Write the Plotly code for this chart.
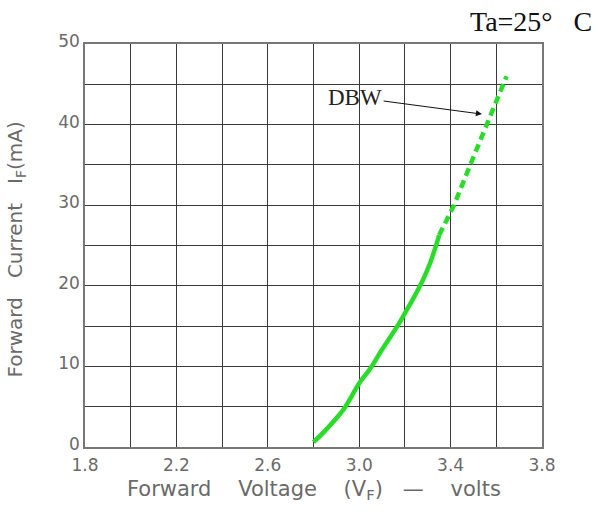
import plotly.graph_objects as go

# ---- data ----
vf_solid = [2.80, 2.85, 2.93, 3.00, 3.05, 3.10, 3.165, 3.20, 3.24, 3.28, 3.31, 3.335, 3.35]
if_solid = [0.6, 2.0, 4.6, 7.9, 9.8, 12.1, 14.9, 16.6, 18.6, 20.8, 22.8, 24.9, 26.3]
vf_dashed = [3.35, 3.415, 3.486, 3.556, 3.645]
if_dashed = [26.3, 30.0, 35.0, 40.0, 46.0]

x_grid = [1.8, 2.0, 2.2, 2.4, 2.6, 2.8, 3.0, 3.2, 3.4, 3.6, 3.8]
x_labels = ["1.8", "", "2.2", "", "2.6", "", "3.0", "", "3.4", "", "3.8"]
y_grid = [0, 5, 10, 15, 20, 25, 30, 35, 40, 45, 50]
y_labels = ["0", "", "10", "", "20", "", "30", "", "40", "", "50"]

series_name = "DBW"
title_text = "Ta=25°   C"
x_title = "Forward    Voltage    (V<sub>F</sub>)   —    volts"
y_title = "Forward   Current   I<sub>F</sub>(mA)"

GREEN = "rgb(40,220,40)"
GRID = "#3a3a3a"
TXT = "#6a6a6a"

fig = go.Figure()
fig.add_trace(go.Scatter(x=vf_solid, y=if_solid, mode="lines",
                         line=dict(color=GREEN, width=4.5, shape="spline", smoothing=0.8),
                         showlegend=False, name=series_name))
fig.add_trace(go.Scatter(x=vf_dashed, y=if_dashed, mode="lines",
                         line=dict(color=GREEN, width=4.5, dash="8px,5px"),
                         showlegend=False, name=series_name))

fig.update_layout(
    width=598, height=512,
    margin=dict(l=85, r=56, t=44, b=65),
    paper_bgcolor="white", plot_bgcolor="white",
    font=dict(family="DejaVu Sans", color=TXT),
)
fig.update_xaxes(range=[1.8, 3.8], tickvals=x_grid, ticktext=x_labels,
                 showgrid=True, gridcolor=GRID, gridwidth=1.3,
                 showline=True, linecolor="#777", linewidth=1.5, mirror=True,
                 zeroline=False, ticks="", ticklabelstandoff=2,
                 tickfont=dict(size=17, color=TXT))
fig.update_yaxes(range=[0, 50], tickvals=y_grid, ticktext=y_labels,
                 showgrid=True, gridcolor=GRID, gridwidth=1.3,
                 showline=True, linecolor="#777", linewidth=1.5, mirror=True,
                 zeroline=False, ticks="", ticklabelshift=-3,
                 tickfont=dict(size=17, color=TXT))

fig.add_annotation(text=title_text, xref="paper", yref="paper",
                   x=1.114, y=1.055, xanchor="right", yanchor="middle",
                   showarrow=False,
                   font=dict(family="Liberation Serif", size=28, color="#111"))
fig.add_annotation(text=x_title, xref="paper", yref="paper",
                   x=0.5, y=-0.107, xanchor="center", yanchor="middle",
                   showarrow=False, font=dict(size=21, color=TXT))
fig.add_annotation(text=y_title, xref="paper", yref="paper",
                   x=-0.153, y=0.49, xanchor="center", yanchor="middle",
                   textangle=-90, showarrow=False, font=dict(size=20, color=TXT))
fig.add_annotation(text=series_name, x=3.537, y=41.3, xref="x", yref="y",
                   ax=2.982, ay=43.4, axref="x", ayref="y",
                   showarrow=True, arrowhead=2, arrowsize=1.2, arrowwidth=1,
                   arrowcolor="#111",
                   font=dict(family="Liberation Serif", size=23, color="#222"))

fig.write_html("out.html")
